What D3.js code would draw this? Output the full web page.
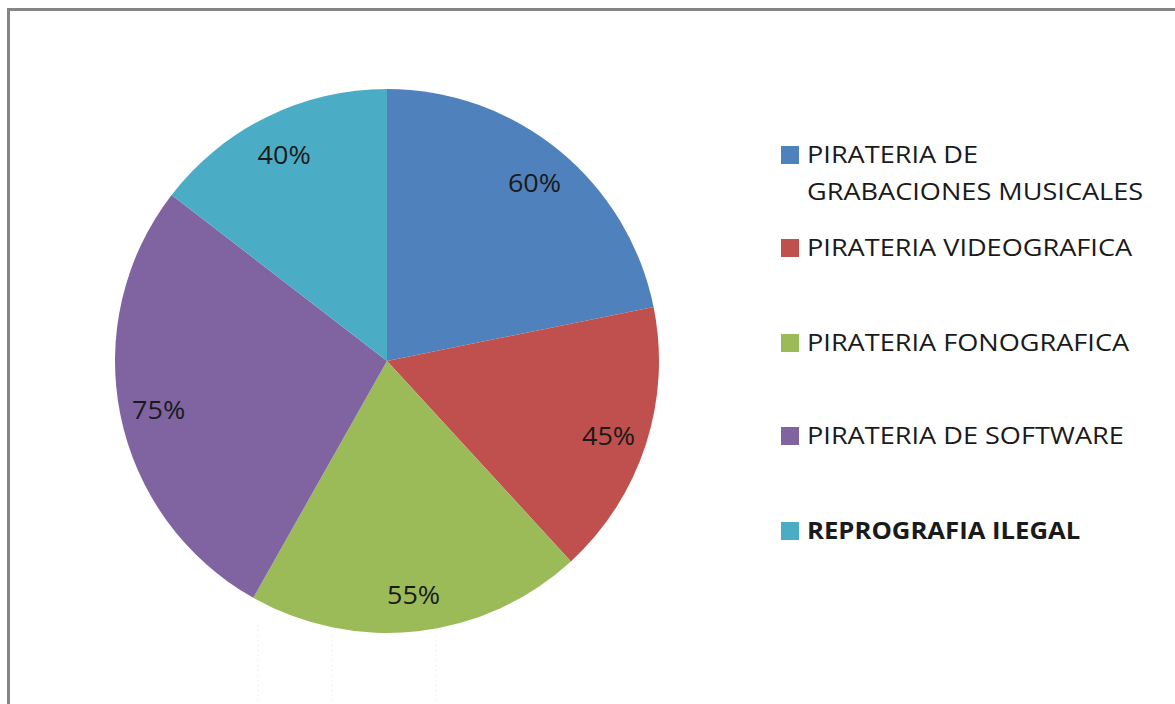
<!DOCTYPE html>
<html>
<head>
<meta charset="utf-8">
<script src="https://cdn.jsdelivr.net/npm/d3@7"></script>
<style>
  body { margin: 0; background: #fff; }
  svg { display: block; font-family: "Open Sans", sans-serif; }
</style>
</head>
<body>
<svg width="1175" height="704"></svg>
<script>
// pie of piracy types (percentages)
const categories = [
  "PIRATERIA DE GRABACIONES MUSICALES",
  "PIRATERIA VIDEOGRAFICA",
  "PIRATERIA FONOGRAFICA",
  "PIRATERIA DE SOFTWARE",
  "REPROGRAFIA ILEGAL"
];
const values = [60, 45, 55, 75, 40];
const labels = ["60%", "45%", "55%", "75%", "40%"];
const legendLines = [
  ["PIRATERIA DE", "GRABACIONES MUSICALES"],
  ["PIRATERIA VIDEOGRAFICA"],
  ["PIRATERIA FONOGRAFICA"],
  ["PIRATERIA DE SOFTWARE"],
  ["REPROGRAFIA ILEGAL"]
];
const colors = ["#4F81BD", "#C0504D", "#9BBB59", "#8064A2", "#4BACC6"];

const svg = d3.select("svg"),
      cx = 387, cy = 361, radius = 272;

// frame
svg.append("path")
    .attr("d", "M8.5,704 V9.5 H1175")
    .attr("fill", "none")
    .attr("stroke", "#858585")
    .attr("stroke-width", 3);

// faint dotted lines under the pie
[258, 332, 436].forEach(x => {
  svg.append("line")
      .attr("x1", x).attr("x2", x)
      .attr("y1", 625).attr("y2", 704)
      .attr("stroke", "#e4e4e4")
      .attr("stroke-dasharray", "1,4");
});

const color = d3.scaleOrdinal().domain(categories).range(colors);

const pie = d3.pie().sort(null).value(d => d.value);
const arcs = pie(categories.map((c, i) => ({ name: c, value: values[i], label: labels[i] })));

const arc = d3.arc().innerRadius(0).outerRadius(radius);
const labelArc = d3.arc().innerRadius(233).outerRadius(233);

const g = svg.append("g")
    .attr("transform", `translate(${cx},${cy})`);

g.selectAll("path")
  .data(arcs)
  .join("path")
    .attr("d", arc)
    .attr("fill", d => color(d.data.name));

g.selectAll("text")
  .data(arcs)
  .join("text")
    .attr("transform", d => `translate(${labelArc.centroid(d)}) scale(1.08,1)`)
    .attr("text-anchor", "middle")
    .attr("dy", "0.47em")
    .style("font-size", "25px")
    .attr("fill", "#1a1a1a")
    .text(d => d.data.label);

// legend
const rowY = [146, 239, 334, 427, 522];
const legend = svg.append("g")
  .selectAll("g")
  .data(categories)
  .join("g")
    .attr("transform", (d, i) => `translate(781,${rowY[i]})`);

legend.append("rect")
    .attr("width", 18)
    .attr("height", 18)
    .attr("fill", d => color(d));

legend.append("text")
    .attr("transform", (d, i) => `translate(26,0) scale(${i === 4 ? 1.07 : 1.13},1)`)
    .style("font-size", "24px")
    .style("font-weight", (d, i) => i === 4 ? "bold" : null)
    .attr("fill", "#1a1a1a")
    .selectAll("tspan")
    .data((d, i) => legendLines[i])
    .join("tspan")
      .attr("x", 0)
      .attr("y", (d, j) => 17 + j * 37)
      .text(d => d);
</script>
</body>
</html>
